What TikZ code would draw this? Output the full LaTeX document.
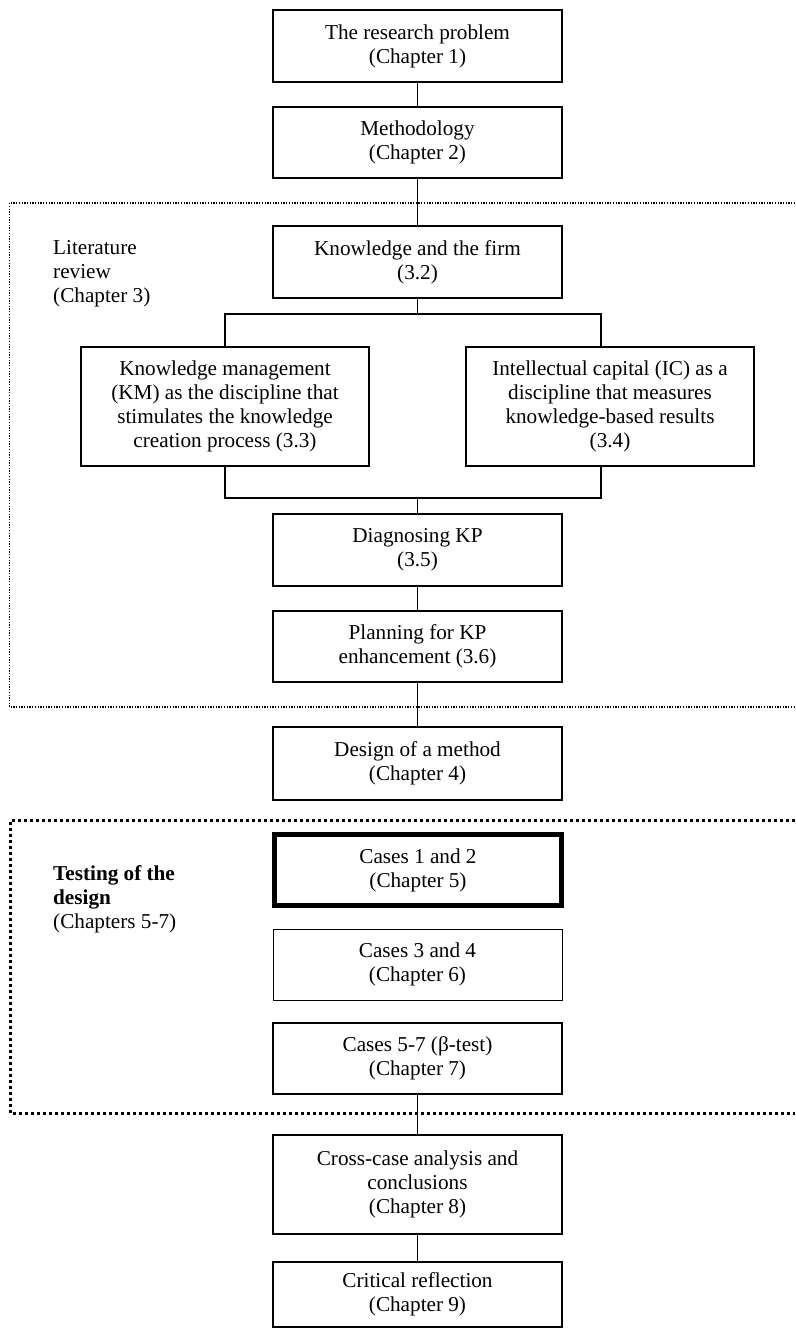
\documentclass[tikz,border=0pt]{standalone}
\usepackage{fontspec}
\setmainfont{Liberation Serif}
\begin{document}
\begin{tikzpicture}[x=1pt,y=-1pt,
  box/.style={draw=black, line width=1.3pt, fill=white, align=center, inner sep=0pt,
    minimum width=289pt, font=\fontsize{21.2}{24.1}\selectfont},
  sidebox/.style={box, minimum width=288pt},
  heavybox/.style={box, line width=5pt, minimum width=287pt},
  lightbox/.style={box, line width=0.8pt},
  conn/.style={draw=black, line width=1.3pt},
  sidelabel/.style={align=left, inner sep=0pt, anchor=north west,
    font=\fontsize{21.2}{24.1}\selectfont},
  finedots/.style={draw=black, line width=1.3pt, dash pattern=on 1.3pt off 1.4pt},
  heavydots/.style={draw=black, line width=3pt, dash pattern=on 3pt off 3pt}]
\useasboundingbox (0,0) rectangle (795,1329);

% group frames
\draw[finedots] (795,203) -- (9.5,203) -- (9.5,707) -- (795,707);
\draw[heavydots] (795,820) -- (10.5,820) -- (10.5,1113) -- (795,1113);

\node[sidelabel] (litlab) at (53,240.5) {Literature\\review\\(Chapter 3)};
\node[sidelabel] (testlab) at (53,865.5) {\textbf{Testing of the}\\\textbf{design}\\(Chapters 5-7)};

% chapter boxes
\node[box, minimum height=72pt] (rp) at (417.5,46) {The research problem\\(Chapter 1)};
\node[box, minimum height=71pt] (meth) at (417.5,142.5) {Methodology\\(Chapter 2)};
\node[box, minimum height=72pt] (kf) at (417.5,262) {Knowledge and the firm\\(3.2)};
\node[sidebox, minimum height=119pt] (km) at (225,406.5) {Knowledge management\\(KM) as the discipline that\\stimulates the knowledge\\creation process (3.3)};
\node[sidebox, minimum height=119pt] (ic) at (610,406.5) {Intellectual capital (IC) as a\\discipline that measures\\knowledge-based results\\(3.4)};
\node[box, minimum height=72pt] (diag) at (417.5,550) {Diagnosing KP\\(3.5)};
\node[box, minimum height=71pt] (plan) at (417.5,646.5) {Planning for KP\\enhancement (3.6)};
\node[box, minimum height=73pt] (design) at (417.5,763.5) {Design of a method\\(Chapter 4)};
\node[heavybox, minimum height=71pt] (c12) at (418,870) {Cases 1 and 2\\(Chapter 5)};
\node[lightbox, minimum height=71pt] (c34) at (417.5,964.5) {Cases 3 and 4\\(Chapter 6)};
\node[box, minimum height=71pt] (c57) at (417.5,1058.5) {Cases 5-7 (β-test)\\(Chapter 7)};
\node[box, minimum height=99pt] (cross) at (417.5,1184.5) {Cross-case analysis and\\conclusions\\(Chapter 8)};
\node[box, minimum height=65pt] (crit) at (417.5,1294.5) {Critical reflection\\(Chapter 9)};

% connectors
\coordinate (splitT) at (417.5,314);
\coordinate (splitB) at (417.5,498);
\coordinate (icx) at (601,0);
\draw[conn] (rp.south) -- (meth.north);
\draw[conn] (meth.south) -- (kf.north);
\draw[conn] (kf.south) -- (splitT);
\draw[conn] (km.north) |- (splitT) -| (ic.north -| icx);
\draw[conn] (km.south) |- (splitB) -| (ic.south -| icx);
\draw[conn] (splitB) -- (diag.north);
\draw[conn] (diag.south) -- (plan.north);
\draw[conn] (plan.south) -- (design.north);
\draw[conn] (c57.south) -- (cross.north);
\draw[conn] (cross.south) -- (crit.north);
\end{tikzpicture}
\end{document}
